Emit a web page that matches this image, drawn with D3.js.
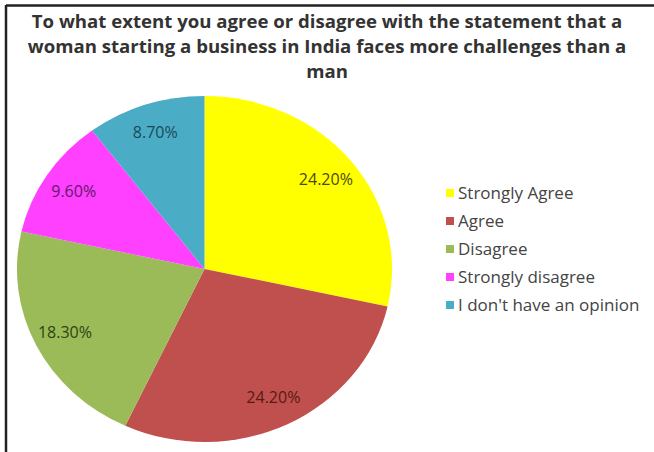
<!DOCTYPE html>
<html>
<head>
<meta charset="utf-8">
<script src="https://cdn.jsdelivr.net/npm/d3@7"></script>
<style>
  html, body { margin: 0; padding: 0; background: #fff; }
  svg { display: block; }
</style>
</head>
<body>
<svg id="chart" width="654" height="452"></svg>
<script>
const titleLines = [
  "To what extent you agree or disagree with the statement that a",
  "woman starting a business in India faces more challenges than a",
  "man"
];
const categories = ["Strongly Agree", "Agree", "Disagree", "Strongly disagree", "I don't have an opinion"];
const values = [24.2, 24.2, 18.3, 9.6, 8.7];
const valueLabels = ["24.20%", "24.20%", "18.30%", "9.60%", "8.70%"];
const colors = ["#FFFF00", "#C0504D", "#9BBB59", "#FF40FF", "#4BACC6"];
const labelColors = ["#4a4a10", "#5a1816", "#2e4412", "#5e1a6a", "#1a4a5a"];

const svg = d3.select("#chart");
const W = 654, H = 452;
svg.append("rect").attr("width", W).attr("height", H).attr("fill", "#fff");

// frame (left + top only visible)
svg.append("line").attr("x1", 6).attr("y1", 5.5).attr("x2", W).attr("y2", 5.5)
  .attr("stroke", "#222").attr("stroke-width", 2.5);
svg.append("line").attr("x1", 6).attr("y1", 5).attr("x2", 6).attr("y2", H)
  .attr("stroke", "#222").attr("stroke-width", 2.5);

// title
const fontFam = "'Open Sans', Lato, sans-serif";
svg.append("g").selectAll("text").data(titleLines).join("text")
  .attr("x", 327).attr("y", (d, i) => 28 + i * 25)
  .attr("text-anchor", "middle")
  .attr("font-family", fontFam).attr("font-weight", "bold")
  .attr("font-size", 18.6).attr("fill", "#333")
  .text(d => d);

// pie (slightly stretched horizontally as in the reference)
const cx = 204.5, cy = 269, R = 173, sx = 1.084;
const pie = d3.pie().sort(null).value(d => d);
const arcs = pie(values);
const arc = d3.arc().innerRadius(0).outerRadius(R);
const labelArc = d3.arc().innerRadius(R * 0.83).outerRadius(R * 0.83);

const g = svg.append("g").attr("transform", `translate(${cx},${cy}) scale(${sx},1)`);
g.selectAll("path").data(arcs).join("path")
  .attr("d", arc).attr("fill", (d, i) => colors[i]);

svg.append("g").selectAll("text").data(arcs).join("text")
  .attr("x", d => cx + labelArc.centroid(d)[0] * sx)
  .attr("y", d => cy + labelArc.centroid(d)[1])
  .attr("dy", "0.35em")
  .attr("text-anchor", "middle")
  .attr("font-family", fontFam).attr("font-size", 16)
  .attr("fill", (d, i) => labelColors[i])
  .text((d, i) => valueLabels[i]);

// legend
const lg = svg.append("g").attr("transform", "translate(446,193)");
const rows = lg.selectAll("g").data(categories).join("g")
  .attr("transform", (d, i) => `translate(0,${i * 28})`);
rows.append("rect").attr("x", 0).attr("y", -4).attr("width", 8).attr("height", 8)
  .attr("fill", (d, i) => colors[i]);
rows.append("text").attr("x", 12).attr("y", 0).attr("dy", "0.35em")
  .attr("font-family", fontFam).attr("font-size", 17).attr("fill", "#444")
  .text(d => d);
</script>
</body>
</html>
